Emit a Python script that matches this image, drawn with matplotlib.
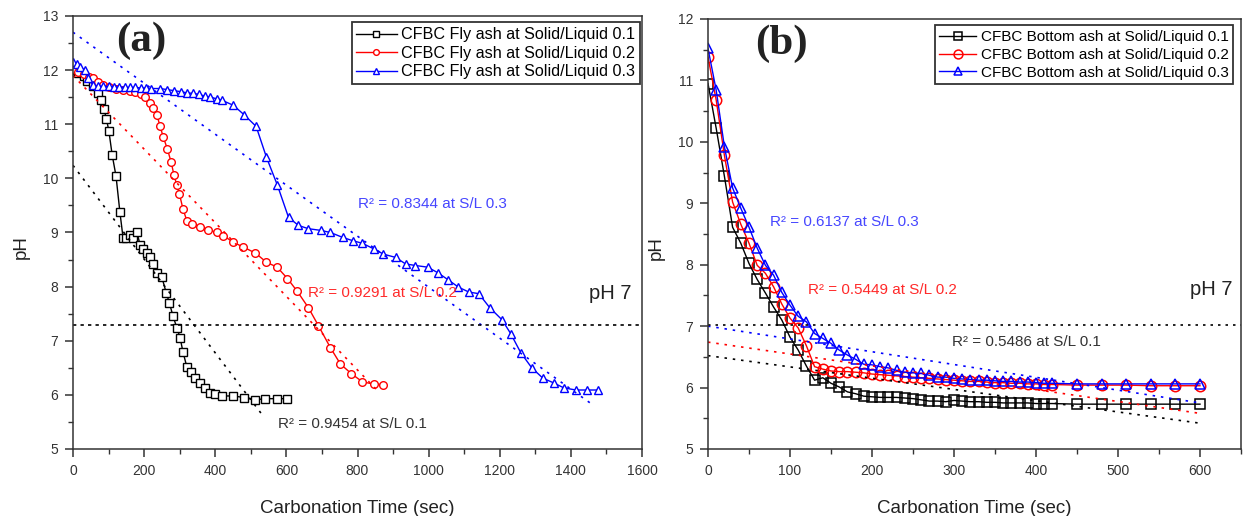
import matplotlib
matplotlib.use("Agg")
import matplotlib.pyplot as plt
import numpy as np

plt.rcParams.update({
    "font.family": ["Liberation Sans", "DejaVu Sans"],
    "axes.linewidth": 1.1,
    "xtick.major.width": 1.1, "ytick.major.width": 1.1,
    "xtick.minor.width": 1.0, "ytick.minor.width": 1.0,
    "xtick.major.size": 5.5, "ytick.major.size": 5.5,
    "xtick.minor.size": 3.5, "ytick.minor.size": 3.5,
    "xtick.direction": "out", "ytick.direction": "out",
})

# ---- panel (a): fly ash ----
fa_t1 = [0, 15, 30, 39, 55, 70, 79, 87, 94, 101, 110, 121, 132, 141, 150, 160,
         170, 180, 189, 198, 208, 217, 225, 236, 250, 262, 271, 281, 292, 301,
         309, 320, 332, 343, 357, 372, 385, 400, 420, 451, 482, 513, 541, 574, 602]
fa_ph1 = [12.0, 11.95, 11.9, 11.8, 11.7, 11.57, 11.44, 11.28, 11.1, 10.87, 10.44,
          10.04, 9.37, 8.89, 8.9, 8.95, 8.9, 9.0, 8.76, 8.7, 8.63, 8.55, 8.42,
          8.26, 8.17, 7.89, 7.7, 7.46, 7.24, 7.06, 6.8, 6.52, 6.43, 6.32, 6.22,
          6.13, 6.04, 6.02, 5.98, 5.98, 5.95, 5.91, 5.93, 5.93, 5.93]

fa_t2 = [0, 15, 30, 45, 56, 70, 85, 100, 120, 140, 160, 175, 190, 203, 217, 225,
         236, 245, 254, 265, 276, 284, 292, 299, 309, 320, 335, 358, 380, 405,
         423, 451, 479, 513, 544, 574, 603, 631, 662, 690, 724, 752, 783, 814,
         845, 873]
fa_ph2 = [12.02, 11.97, 11.92, 11.87, 11.85, 11.78, 11.72, 11.68, 11.65, 11.63,
          11.62, 11.6, 11.55, 11.5, 11.4, 11.3, 11.17, 10.96, 10.76, 10.55,
          10.3, 10.06, 9.87, 9.72, 9.44, 9.22, 9.15, 9.1, 9.05, 9.0, 8.94, 8.82,
          8.73, 8.62, 8.45, 8.36, 8.15, 7.91, 7.61, 7.28, 6.87, 6.57, 6.39,
          6.24, 6.2, 6.19]

fa_t3 = [0, 10, 20, 34, 42, 56, 70, 85, 100, 115, 130, 145, 160, 175, 190, 205,
         220, 245, 265, 285, 305, 320, 338, 355, 370, 386, 405, 420, 451, 482,
         515, 544, 575, 606, 634, 662, 696, 724, 758, 786, 814, 845, 873, 907,
         935, 963, 997, 1025, 1054, 1084, 1113, 1141, 1172, 1206, 1231, 1259,
         1290, 1321, 1352, 1380, 1414, 1445, 1476]
fa_ph3 = [12.15, 12.12, 12.05, 12.0, 11.86, 11.72, 11.7, 11.7, 11.7, 11.69,
          11.69, 11.68, 11.68, 11.68, 11.67, 11.67, 11.66, 11.66, 11.64, 11.62,
          11.6, 11.58, 11.57, 11.55, 11.52, 11.5, 11.47, 11.44, 11.35, 11.17,
          10.96, 10.39, 9.87, 9.28, 9.13, 9.07, 9.04, 9.0, 8.91, 8.85, 8.8, 8.7,
          8.6, 8.54, 8.42, 8.39, 8.36, 8.26, 8.13, 7.99, 7.9, 7.87, 7.61, 7.39,
          7.13, 6.78, 6.5, 6.31, 6.22, 6.13, 6.09, 6.09, 6.09]

# linear fits: (intercept, slope, x_end)
fa_fit_b = [10.24, 11.9, 12.7]
fa_fit_m = [-0.00866, -0.0068, -0.00471]
fa_fit_end = [535, 860, 1465]
fa_r2 = ["0.9454", "0.9291", "0.8344"]
fa_ph7 = 7.3

# ---- panel (b): bottom ash ----
ba_t = list(range(0, 430, 10)) + [450, 480, 510, 540, 570, 600]
ba_ph1 = [10.95, 10.22, 9.44, 8.61, 8.35, 8.02, 7.76, 7.54, 7.31, 7.10, 6.82,
          6.61, 6.35, 6.12, 6.16, 6.07, 6.01, 5.93, 5.90, 5.86, 5.85, 5.84,
          5.84, 5.84, 5.83, 5.82, 5.80, 5.78, 5.78, 5.77, 5.79, 5.78, 5.77,
          5.77, 5.76, 5.76, 5.75, 5.75, 5.75, 5.75, 5.74, 5.74, 5.74,
          5.73, 5.73, 5.73, 5.73, 5.73, 5.73]
ba_ph2 = [11.38, 10.68, 9.78, 9.02, 8.66, 8.35, 7.99, 7.86, 7.64, 7.36, 7.13,
          6.97, 6.68, 6.34, 6.30, 6.27, 6.26, 6.26, 6.25, 6.24, 6.22, 6.21,
          6.20, 6.19, 6.18, 6.17, 6.16, 6.15, 6.14, 6.13, 6.12, 6.11, 6.10,
          6.10, 6.09, 6.08, 6.08, 6.07, 6.07, 6.06, 6.06, 6.05, 6.05,
          6.04, 6.04, 6.04, 6.03, 6.03, 6.03]
ba_ph3 = [11.52, 10.84, 9.92, 9.25, 8.92, 8.61, 8.27, 7.99, 7.83, 7.55, 7.34,
          7.16, 7.07, 6.88, 6.80, 6.72, 6.61, 6.53, 6.46, 6.38, 6.37, 6.34,
          6.32, 6.28, 6.25, 6.24, 6.23, 6.20, 6.17, 6.17, 6.15, 6.14, 6.13,
          6.12, 6.12, 6.11, 6.10, 6.10, 6.09, 6.09, 6.08, 6.07, 6.07,
          6.06, 6.06, 6.06, 6.06, 6.06, 6.06]
ba_fit_start = [6.52, 6.74, 7.0]
ba_fit_end = [5.42, 5.58, 5.75]
ba_r2 = ["0.5486", "0.5449", "0.6137"]
ba_ph7 = 7.02

sl = ["0.1", "0.2", "0.3"]
colors = ["#000000", "#ff0000", "#0000ff"]
text_colors = ["#333333", "#ff2a2a", "#4646ff"]
markers = ["s", "o", "^"]
tick_color = "#333333"

fig = plt.figure(figsize=(12.43, 5.16), dpi=100)
ax1 = fig.add_axes([73 / 1243, 1 - 449 / 516, 569 / 1243, 433 / 516])
ax2 = fig.add_axes([708 / 1243, 1 - 449 / 516, 533 / 1243, 430 / 516])

# panel (a)
for t, ph, c, m, s in zip([fa_t1, fa_t2, fa_t3], [fa_ph1, fa_ph2, fa_ph3],
                          colors, markers, sl):
    ax1.plot(t, ph, "-", color=c, lw=1.0, marker=m, ms=5.5, mfc="white",
             mec=c, mew=1.0, label=f"CFBC Fly ash at Solid/Liquid {s}")
for b, m, xe, c in zip(fa_fit_b, fa_fit_m, fa_fit_end, colors):
    xx = np.array([0, xe])
    ax1.plot(xx, b + m * xx, color=c, lw=1.2, ls=(0, (1.5, 3.5)))
ax1.axhline(fa_ph7, color="black", lw=1.2, ls=(0, (2, 2.5)))
ax1.set_xlim(0, 1600)
ax1.set_ylim(5, 13)
ax1.set_xticks(np.arange(0, 1601, 200))
ax1.set_xticks(np.arange(0, 1601, 100), minor=True)
ax1.set_yticks(np.arange(5, 14, 1))
ax1.set_yticks(np.arange(5, 13.01, 0.5), minor=True)
ax1.text(192, 12.54, "(a)", family="Liberation Serif", weight="bold",
         fontsize=31, ha="center", va="center", color="#222222")
r2_pos_a = [(577, 5.46), (662, 7.89), (800, 9.52)]
for (x, y), r, s, tc in zip(r2_pos_a, fa_r2, sl, text_colors):
    ax1.text(x, y, f"R² = {r} at S/L {s}", color=tc, fontsize=11, va="center")
ax1.text(1451, 7.87, "pH 7", fontsize=14.5, va="center", color="#222222")
leg = ax1.legend(loc="upper right", bbox_to_anchor=(0.997, 0.985),
                 borderaxespad=0, fontsize=11.6, handlelength=2.5,
                 handletextpad=0.3, labelspacing=0.22, borderpad=0.3,
                 fancybox=False, edgecolor="black", markerscale=0.75)
leg.get_frame().set_linewidth(1.3)

# panel (b)
for ph, c, m, s in zip([ba_ph1, ba_ph2, ba_ph3], colors, markers, sl):
    ax2.plot(ba_t, ph, "-", color=c, lw=1.0, marker=m, ms=7.5, mfc="none",
             mec=c, mew=1.1, label=f"CFBC Bottom ash at Solid/Liquid {s}")
for y0, y1, c in zip(ba_fit_start, ba_fit_end, colors):
    ax2.plot([0, 600], [y0, y1], color=c, lw=1.2, ls=(0, (1.5, 3.5)))
ax2.axhline(ba_ph7, color="black", lw=1.2, ls=(0, (1.5, 3)))
ax2.set_xlim(0, 650)
ax2.set_ylim(5, 12)
ax2.set_xticks(np.arange(0, 601, 100))
ax2.set_xticks(np.arange(0, 651, 50), minor=True)
ax2.set_yticks(np.arange(5, 13, 1))
ax2.set_yticks(np.arange(5, 12.01, 0.5), minor=True)
ax2.text(90, 11.59, "(b)", family="Liberation Serif", weight="bold",
         fontsize=31, ha="center", va="center", color="#222222")
r2_pos_b = [(298, 6.74), (122, 7.59), (75, 8.69)]
for (x, y), r, s, tc in zip(r2_pos_b, ba_r2, sl, text_colors):
    ax2.text(x, y, f"R² = {r} at S/L {s}", color=tc, fontsize=11, va="center")
ax2.text(588, 7.6, "pH 7", fontsize=14.5, va="center", color="#222222")
leg = ax2.legend(loc="upper right", bbox_to_anchor=(0.985, 0.985),
                 borderaxespad=0, fontsize=11, handlelength=2.4,
                 handletextpad=0.3, labelspacing=0.25, borderpad=0.3,
                 fancybox=False, edgecolor="black", markerscale=0.85)
leg.get_frame().set_linewidth(1.3)

for ax, lx in [(ax1, -0.076), (ax2, -0.081)]:
    ax.set_xlabel("Carbonation Time (sec)", fontsize=13.5, color="#222222")
    ax.set_ylabel("pH", fontsize=13.5, color="#222222")
    ax.xaxis.set_label_coords(0.5, -0.118)
    ax.yaxis.set_label_coords(lx, 0.467)
    ax.tick_params(which="both", colors=tick_color, labelsize=10, pad=5)
    for sp in ax.spines.values():
        sp.set_color(tick_color)

fig.savefig("out.png", dpi=100)
